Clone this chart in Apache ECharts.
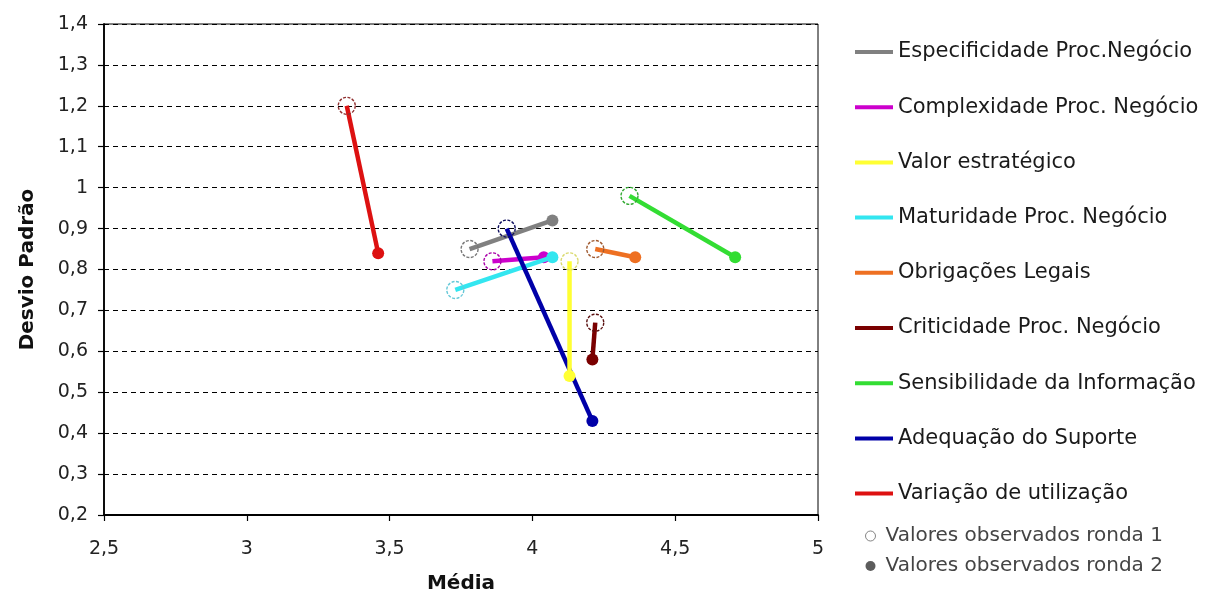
<!DOCTYPE html>
<html>
<head>
<meta charset="utf-8">
<script src="https://cdn.jsdelivr.net/npm/echarts@6/dist/echarts.min.js"></script>
<style>
  html, body { margin: 0; padding: 0; background: #fff; }
  #chart { width: 1209px; height: 596px; }
</style>
</head>
<body>
<div id="chart"></div>
<script>
// Criteria evaluated in both rounds
const criterios = [
  'Especificidade Proc.Negócio',
  'Complexidade Proc. Negócio',
  'Valor estratégico',
  'Maturidade Proc. Negócio',
  'Obrigações Legais',
  'Criticidade Proc. Negócio',
  'Sensibilidade da Informação',
  'Adequação do Suporte',
  'Variação de utilização'
];

// Round 1 (open markers)
const mediaRonda1  = [3.78, 3.86, 4.13, 3.73, 4.22, 4.22, 4.34, 3.91, 3.35];
const desvioRonda1 = [0.85, 0.82, 0.82, 0.75, 0.85, 0.67, 0.98, 0.90, 1.20];

// Round 2 (filled markers)
const mediaRonda2  = [4.07, 4.04, 4.13, 4.07, 4.36, 4.21, 4.71, 4.21, 3.46];
const desvioRonda2 = [0.92, 0.83, 0.54, 0.83, 0.83, 0.58, 0.83, 0.43, 0.84];

const ronda1Nome = 'Valores observados ronda 1';
const ronda2Nome = 'Valores observados ronda 2';

// Line colours and the darker outline used for the open markers
const cores    = ['#808080', '#cc00cc', '#ffff33', '#33e6f0', '#ee7022', '#7a0000', '#33dd33', '#0000a8', '#dd1111'];
const contorno = ['#777777', '#aa00aa', '#dada70', '#66c8d8', '#a05a30', '#5a1010', '#33aa33', '#101060', '#903030'];
// Drawing order (the yellow segment sits above the blue one)
const camada   = [2, 3, 12, 4, 5, 6, 7, 8, 9];

const FONT = '"DejaVu Sans", "Liberation Sans", Arial, sans-serif';
const fmt = v => String(+(+v).toFixed(1)).replace('.', ',');

const series = criterios.map((nome, i) => ({
  name: nome,
  type: 'line',
  color: cores[i],
  lineStyle: { width: 4.5, color: cores[i] },
  z: camada[i],
  data: [
    {
      value: [mediaRonda1[i], desvioRonda1[i]],
      symbol: 'circle',
      symbolSize: 17,
      itemStyle: { color: 'rgba(255,255,255,0)', borderColor: contorno[i], borderWidth: 1.4, borderType: [3, 1.5] }
    },
    {
      value: [mediaRonda2[i], desvioRonda2[i]],
      symbol: 'circle',
      symbolSize: 12,
      itemStyle: { color: cores[i], borderWidth: 0 }
    }
  ],
  animation: false
}));

// Empty series that only feed the marker legend
series.push({ name: ronda1Nome, type: 'scatter', data: [] });
series.push({ name: ronda2Nome, type: 'scatter', data: [] });

const chart = echarts.init(document.getElementById('chart'), null, { renderer: 'canvas' });
chart.setOption({
  animation: false,
  backgroundColor: '#fff',
  textStyle: { fontFamily: FONT },
  grid: {
    left: 104, right: 391, top: 24, bottom: 81,
    outerBoundsMode: 'none',
    containLabel: false,
    show: true, borderColor: '#000', borderWidth: 1, backgroundColor: 'transparent'
  },
  xAxis: {
    type: 'value',
    min: 2.5, max: 5, interval: 0.5,
    name: 'Média',
    nameLocation: 'middle',
    nameGap: 59,
    nameTextStyle: { fontFamily: FONT, fontSize: 20, fontWeight: 'bold', color: '#111' },
    axisLine: { show: true, lineStyle: { color: '#000', width: 1.8 } },
    axisTick: { show: true, length: 6, lineStyle: { color: '#000', width: 1.2 } },
    axisLabel: { formatter: fmt, fontFamily: FONT, fontSize: 19, color: '#222', margin: 25 },
    splitLine: { show: false }
  },
  yAxis: {
    type: 'value',
    min: 0.2, max: 1.4, interval: 0.1,
    name: 'Desvio Padrão',
    nameLocation: 'middle',
    nameRotate: 90,
    nameGap: 66,
    nameTextStyle: { fontFamily: FONT, fontSize: 20, fontWeight: 'bold', color: '#111' },
    axisLine: { show: true, lineStyle: { color: '#000', width: 1.8 } },
    axisTick: { show: true, length: 6, lineStyle: { color: '#000', width: 1.2 } },
    axisLabel: { formatter: fmt, fontFamily: FONT, fontSize: 19, color: '#222', margin: 16 },
    splitLine: { show: true, lineStyle: { color: '#000', width: 1, type: [5, 4] } }
  },
  legend: [
    {
      orient: 'vertical',
      left: 855, top: 41,
      padding: 0,
      itemWidth: 38, itemHeight: 4,
      itemGap: 33.2,
      icon: 'rect',
      data: criterios,
      selectedMode: false,
      textStyle: { fontFamily: FONT, fontSize: 21, color: '#1a1a1a', lineHeight: 22 }
    },
    {
      orient: 'vertical',
      left: 865, top: 525,
      padding: 0,
      itemWidth: 10, itemHeight: 10,
      itemGap: 8,
      selectedMode: false,
      data: [
        { name: ronda1Nome, icon: 'circle', itemStyle: { color: '#fff', borderColor: '#666', borderWidth: 1 } },
        { name: ronda2Nome, icon: 'circle', itemStyle: { color: '#333', borderWidth: 0 } }
      ],
      textStyle: { fontFamily: FONT, fontSize: 20, color: '#444', lineHeight: 22, padding: [0, 0, 0, 5] }
    }
  ],
  series: series
});
</script>
</body>
</html>
